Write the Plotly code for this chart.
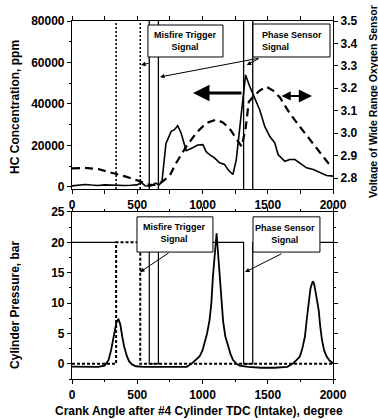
import plotly.graph_objects as go

# ---------------- data ----------------
hc_x = [0, 50, 100, 150, 200, 250, 300, 350, 400, 450, 500, 530, 560, 600, 640, 670, 690,
        720, 760, 785, 810, 836, 875, 913, 964, 1003, 1028, 1054, 1092, 1131, 1169, 1200,
        1233, 1259, 1297, 1315, 1330, 1362, 1400, 1438, 1477, 1515, 1554, 1579, 1631, 1669,
        1708, 1746, 1797, 1849, 1900, 1951, 2000]
hc_y = [500, 800, 1200, 900, 700, 1000, 800, 900, 700, 800, 1000, 2200, 600, 400, 1800, 1000, 3000,
        21000, 26800, 27600, 29500, 26000, 17500, 18500, 20200, 20400, 17000, 15600, 14000, 11600, 10800, 8000,
        6000, 13200, 35600, 48400, 54000, 48400, 42800, 37200, 29200, 24400, 21200, 15600, 12400, 13200,
        13200, 11600, 9200, 8400, 6800, 5500, 5200]

v_x = [0, 100, 200, 338, 420, 523, 572, 620, 674, 726, 751, 797, 875, 951, 1028, 1105, 1156,
       1208, 1259, 1300, 1330, 1355, 1385, 1438, 1490, 1541, 1592, 1669, 1746, 1823, 1900, 1964, 2000]
v_y = [2.843, 2.845, 2.84, 2.82, 2.805, 2.785, 2.772, 2.768, 2.775, 2.80, 2.813, 2.866, 2.94, 3.0,
       3.045, 3.06, 3.048, 3.02, 2.975, 2.94, 3.02, 3.14, 3.16, 3.19, 3.207, 3.19, 3.16, 3.088,
       3.029, 2.97, 2.91, 2.866, 2.85]

p_x = [0, 100, 200, 250, 280, 300, 320, 340, 355, 370, 385, 400, 420, 438, 460, 490, 550, 600,
       700, 800, 880, 923, 950, 977, 1000, 1015, 1035, 1054, 1068, 1080, 1095, 1108, 1120, 1133,
       1145, 1158, 1175, 1195, 1215, 1233, 1260, 1285, 1350, 1450, 1550, 1650, 1695, 1720, 1746,
       1765, 1785, 1800, 1812, 1828, 1845, 1855, 1865, 1877, 1890, 1902, 1915, 1932, 1951, 1975, 2000]
p_y = [-0.45, -0.45, -0.5, -0.3, 0.6, 2.3, 4.5, 6.8, 7.4, 6.5, 4.5, 2.8, 1.3, 0.4, -0.1, -0.4, -0.5, -0.5,
       -0.6, -0.6, -0.5, 0.15, 0.6, 1.2, 2.2, 3.4, 5.0, 7.2, 10.0, 14.4, 19.0, 21.5, 18.0, 14.4,
       10.0, 7.0, 4.5, 2.9, 1.6, 0.65, 0.0, -0.3, -0.5, -0.65, -0.65, -0.5, 0.1, 0.6, 1.2,
       2.5, 4.5, 7.5, 10.0, 12.5, 13.6, 13.2, 12.0, 10.5, 8.9, 6.2, 4.0, 2.2, 1.2, 0.5, 0.1]

# misfire trigger / phase sensor signals
trig_x = [0, 338, None, 592, 592, 662, 662, 1315, 1315, 1385, 1385, 2000]
trig_y = [20, 20, None, 20, 0, 0, 20, 20, 0, 0, 20, 20]
dot_x = [0, 338, 338, 523, 523, 2000]
dot_y = [0, 0, 20, 20, 0, 0]
trig_edges = [592, 662, 1315, 1385]
dot_edges = [338, 523]

x_ticks = [0, 500, 1000, 1500, 2000]
hc_ticks = [0, 20000, 40000, 60000, 80000]
v_ticks = [2.8, 2.9, 3.0, 3.1, 3.2, 3.3, 3.4, 3.5]
p_ticks = [0, 5, 10, 15, 20, 25]

FONT = "Liberation Sans"
BLK = "black"

fig = go.Figure()
fig.add_trace(go.Scatter(x=hc_x, y=hc_y, mode="lines", xaxis="x", yaxis="y",
                         line=dict(color=BLK, width=1.6), showlegend=False))
fig.add_trace(go.Scatter(x=v_x, y=v_y, mode="lines", xaxis="x", yaxis="y2",
                         line=dict(color=BLK, width=2.2, dash="8px,5px"), showlegend=False))
fig.add_trace(go.Scatter(x=dot_x, y=dot_y, mode="lines", xaxis="x2", yaxis="y3",
                         line=dict(color=BLK, width=2, dash="3px,2px"), showlegend=False))
fig.add_trace(go.Scatter(x=trig_x, y=trig_y, mode="lines", xaxis="x2", yaxis="y3",
                         line=dict(color=BLK, width=1.2), showlegend=False, connectgaps=False))
fig.add_trace(go.Scatter(x=p_x, y=p_y, mode="lines", xaxis="x2", yaxis="y3",
                         line=dict(color=BLK, width=1.8), showlegend=False))

shapes = []
for e in trig_edges:
    shapes.append(dict(type="line", xref="x", yref="y domain", x0=e, x1=e, y0=0, y1=1,
                       line=dict(color=BLK, width=1.3), layer="above"))
for e in dot_edges:
    shapes.append(dict(type="line", xref="x", yref="y domain", x0=e, x1=e, y0=0, y1=1,
                       line=dict(color=BLK, width=1.5, dash="2px,2px"), layer="above"))
# label boxes
box = dict(type="rect", fillcolor="white", line=dict(color=BLK, width=1), layer="above")
shapes.append(dict(box, xref="x", yref="y", x0=582, x1=1157, y0=62650, y1=78070))
shapes.append(dict(box, xref="x", yref="y", x0=1387, x1=1977, y0=62650, y1=78550))
shapes.append(dict(box, xref="x2", yref="y3", x0=498, x1=1080, y0=18.4, y1=24.2))
shapes.append(dict(box, xref="x2", yref="y3", x0=1387, x1=1900, y0=18.4, y1=24.2))

bf = dict(family=FONT, size=9, color=BLK, weight="bold")
ann = []
ann.append(dict(xref="x", yref="y", x=870, y=70600, text="Misfire Trigger<br>Signal",
                showarrow=False, font=bf, align="center"))
ann.append(dict(xref="x", yref="y", x=1441, y=70600, text="Phase Sensor<br>Signal",
                showarrow=False, font=bf, align="left", xanchor="left"))
ann.append(dict(xref="x2", yref="y3", x=789, y=21.5, text="Misfire Trigger<br>Signal",
                showarrow=False, font=bf, align="center"))
ann.append(dict(xref="x2", yref="y3", x=1632, y=21.4, text="Phase Sensor<br>Signal",
                showarrow=False, font=bf, align="center"))

def arrow(xr, yr, x, y, ax, ay, width=1, head=2, size=1.0, side="end"):
    return dict(xref=xr, yref=yr, axref=xr, ayref=yr, x=x, y=y, ax=ax, ay=ay, text="",
                showarrow=True, arrowhead=head, arrowsize=size, arrowwidth=width,
                arrowcolor=BLK, standoff=0, startstandoff=0, arrowside=side,
                startarrowhead=head, startarrowsize=size * 0.7)

ann.append(arrow("x", "y", 529, 58790, 598, 59760, size=0.9))
ann.append(arrow("x", "y", 674, 53010, 1441, 62170, size=0.9))
ann.append(arrow("x", "y", 1339, 58790, 1441, 62170, size=0.9))
ann.append(arrow("x2", "y3", 521, 15.1, 751, 18.4, size=0.9))
ann.append(arrow("x2", "y3", 1326, 15.1, 1617, 18.25, size=0.9))
ann.append(arrow("x", "y", 927, 45300, 1310, 45300, width=3, head=2, size=1.1))
ann.append(arrow("x", "y", 1839, 43850, 1594, 43850, width=2.2, head=2, size=1.2, side="end+start"))

tf = dict(family=FONT, size=12, color=BLK, weight="bold")
ann.append(dict(xref="paper", yref="paper", x=0, y=0.76, xshift=-57, text="HC Concentration, ppm",
                textangle=-90, showarrow=False, font=tf, xanchor="center", yanchor="middle"))
ann.append(dict(xref="paper", yref="paper", x=0, y=0.207, xshift=-57, text="Cylinder Pressure, bar",
                textangle=-90, showarrow=False, font=tf, xanchor="center", yanchor="middle"))
ann.append(dict(xref="paper", yref="paper", x=1, y=0.4986, xshift=40,
                text="Voltage of Wide Range Oxygen Sensor",
                textangle=-90, showarrow=False,
                font=dict(family=FONT, size=10.5, color=BLK, weight="bold"),
                xanchor="center", yanchor="bottom"))
ann.append(dict(xref="paper", yref="paper", x=0.487, y=0, yshift=-32,
                text="Crank Angle after #4 Cylinder TDC (Intake), degree",
                showarrow=False, font=dict(family=FONT, size=12, color=BLK, weight="bold"),
                xanchor="center", yanchor="middle"))

tick_font = dict(family=FONT, size=12, color=BLK, weight="bold")
axcommon = dict(showline=True, linecolor=BLK, linewidth=1.2, showgrid=False, zeroline=False,
                ticks="outside", ticklen=4, tickwidth=1, tickcolor=BLK, tickfont=tick_font)

fig.update_layout(
    width=378, height=420,
    margin=dict(l=72, r=45, t=21, b=41),
    paper_bgcolor="white", plot_bgcolor="white",
    xaxis=dict(axcommon, domain=[0, 1], anchor="y", range=[0, 2000], tickvals=x_ticks,
               mirror="allticks", minor=dict(dtick=250, ticklen=2, ticks="outside", tickcolor=BLK)),
    yaxis=dict(axcommon, domain=[0.5307, 1], anchor="x", range=[-1000, 80000], tickvals=hc_ticks,
               tickformat="d",
               minor=dict(dtick=10000, ticklen=2, ticks="outside", tickcolor=BLK)),
    yaxis2=dict(axcommon, overlaying="y", side="right", anchor="x", range=[2.751, 3.5],
                tickvals=v_ticks, tickformat=".1f"),
    xaxis2=dict(axcommon, domain=[0, 1], anchor="y3", range=[0, 2000], tickvals=x_ticks,
                mirror="allticks", minor=dict(dtick=250, ticklen=2, ticks="outside", tickcolor=BLK)),
    yaxis3=dict(axcommon, domain=[0, 0.4665], anchor="x2", range=[-2.5, 25], tickvals=p_ticks,
                mirror="allticks", minor=dict(dtick=2.5, ticklen=2, ticks="outside", tickcolor=BLK)),
    shapes=shapes,
    annotations=ann,
)

fig.write_html("out.html")
